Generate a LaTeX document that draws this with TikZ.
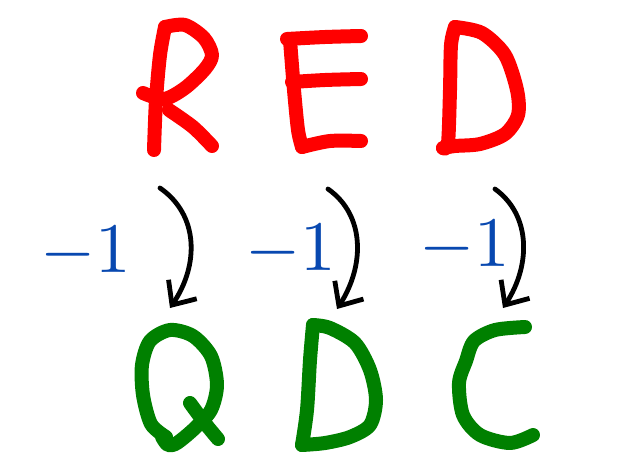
\documentclass[tikz,border=0pt]{standalone}
\usepackage{graphicx}
\usetikzlibrary{arrows.meta}
\definecolor{lRed}{RGB}{255,0,0}
\definecolor{lGreen}{RGB}{0,128,0}
\definecolor{lBlue}{RGB}{8,72,176}
\newcommand{\bigminus}{\scalebox{7.1}{$-1$}}

\begin{document}
\begin{tikzpicture}[
  x=1pt,
  y=-1pt,
  stroke/.style={
    line width=14pt,
    line cap=round,
    line join=round
  },
  redstroke/.style={stroke, draw=lRed},
  greenstroke/.style={stroke, draw=lGreen},
  shiftarrow/.style={
    line width=4.8pt,
    line cap=round,
    -{Straight Barb[length=19pt,width=34pt,line width=4.8pt]}
  },
  minuslabel/.style={
    anchor=base,
    inner sep=0pt,
    text=lBlue,
    font=\fontsize{10}{12}\selectfont
  }
]
  \useasboundingbox (0,0) rectangle (628,473);

  % R E D
  \draw[redstroke] plot[smooth] coordinates {(154,150) (156,100) (160,55) (165,27)};
  \draw[redstroke] plot[smooth] coordinates {(165,27) (185,25) (204,38) (212,55) (205,69) (185,88) (164,99) (143,93)};
  \draw[redstroke] plot[smooth] coordinates {(169,110) (193,127) (212,146)};

  \draw[redstroke] plot[smooth] coordinates {(287,39) (325,37) (361,36)};
  \draw[redstroke] plot[smooth] coordinates {(290,40) (294,90) (298,130) (302,147)};
  \draw[redstroke] plot[smooth] coordinates {(292,82) (325,80) (361,79)};
  \draw[redstroke] plot[smooth] coordinates {(302,147) (330,141) (361,141)};

  \draw[redstroke] plot[smooth] coordinates {(455,27) (451,45) (450,90) (448,143) (443,148)};
  \draw[redstroke] plot[smooth] coordinates {(455,27) (482,33) (505,55) (517,90) (518,115) (505,134) (480,144) (455,146) (443,148)};

  % Q D C
  \draw[greenstroke] plot[smooth] coordinates {(166,437) (151,424) (143,395) (142,365) (150,341) (170,330) (193,336) (211,356) (217,385) (211,410) (195,428) (177,443) (168,445) (162,437)};
  \draw[greenstroke] plot[smooth] coordinates {(190,403) (204,422) (218,439)};

  \draw[greenstroke] plot[smooth] coordinates {(313,325) (310,360) (307,410) (302,445)};
  \draw[greenstroke] plot[smooth] coordinates {(313,325) (330,328) (355,343) (370,370) (376,400) (370,425) (350,437) (325,443) (302,445)};

  \draw[greenstroke] plot[smooth] coordinates {(525,327) (495,330) (474,341) (466,361) (459,383) (463,415) (480,435) (510,443) (533,435)};

  % arrows
  \coordinate (r1) at (160,188);
  \coordinate (q1) at (170,308);
  \coordinate (r2) at (328,189);
  \coordinate (q2) at (337,309);
  \coordinate (r3) at (495,189);
  \coordinate (q3) at (503,308);

  \draw[shiftarrow] (r1) .. controls (199,215) and (199,265) .. (q1);
  \draw[shiftarrow] (r2) .. controls (365,215) and (365,265) .. (q2);
  \draw[shiftarrow] (r3) .. controls (531,215) and (531,265) .. (q3);

  \node[minuslabel] (m1) at (86,272) {\bigminus};
  \node[minuslabel] (m2) at (291,270) {\bigminus};
  \node[minuslabel] (m3) at (465,266) {\bigminus};
\end{tikzpicture}
\end{document}
